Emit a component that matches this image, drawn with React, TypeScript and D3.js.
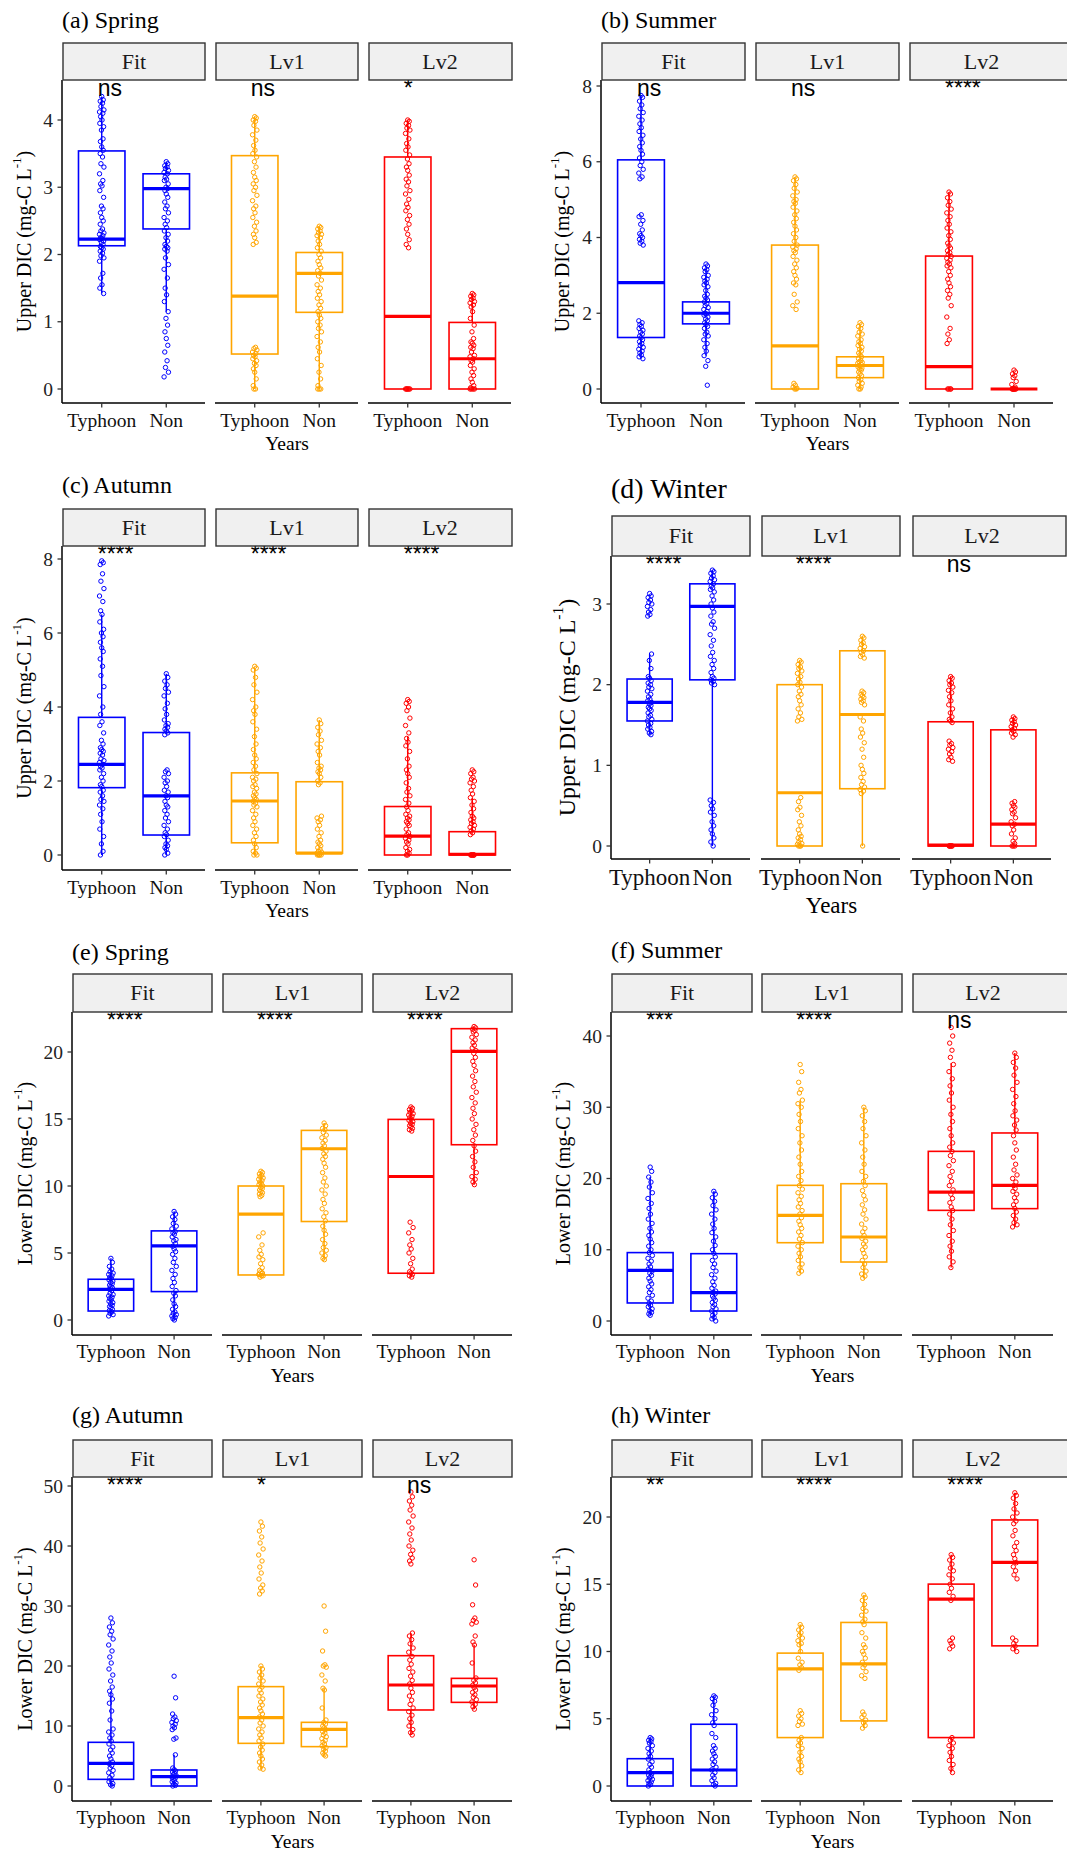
import React from 'react';
import * as d3 from 'd3';

// facets / groups shared by every panel
const facetNames = ['Fit', 'Lv1', 'Lv2'];
const groupNames = ['Typhoon', 'Non'];
const facetColors = ['#0000FF', '#FFA500', '#FF0000'];

// box stats per group: [q1, median, q3, whiskerLow, whiskerHigh]
// order: Fit-Typhoon, Fit-Non, Lv1-Typhoon, Lv1-Non, Lv2-Typhoon, Lv2-Non

// (a) Upper DIC, Spring
const aTicks = [0, 1, 2, 3, 4];
const aSig = ['ns', 'ns', '*'];
const aBoxes = [
  [2.13, 2.23, 3.54, 1.42, 4.35], [2.38, 2.98, 3.2, 1.15, 3.38],
  [0.52, 1.38, 3.47, 0, 4.05], [1.14, 1.72, 2.03, 0, 2.42],
  [0, 1.08, 3.45, 0, 4.0], [0, 0.45, 0.99, 0, 1.42],
];
const aPoints = [
  [4.35, 4.3, 4.28, 4.25, 4.2, 4.15, 4.12, 4.1, 4.05, 4.0, 3.95, 3.9, 3.85, 3.72, 3.68, 3.6, 3.55, 3.5, 3.45, 3.35, 3.3, 3.2, 3.1, 3.05, 3.02, 2.95, 2.85, 2.72, 2.68, 2.62, 2.55, 2.5, 2.45, 2.38, 2.35, 2.32, 2.3, 2.28, 2.25, 2.24, 2.22, 2.2, 2.18, 2.15, 2.12, 2.1, 2.08, 2.05, 2.02, 1.98, 1.95, 1.9, 1.72, 1.65, 1.55, 1.5, 1.42],
  [3.38, 3.35, 3.32, 3.3, 3.28, 3.25, 3.22, 3.2, 3.15, 3.12, 3.1, 3.05, 3.0, 2.98, 2.95, 2.9, 2.85, 2.78, 2.72, 2.68, 2.62, 2.55, 2.5, 2.45, 2.4, 2.35, 2.3, 2.25, 2.2, 2.15, 2.12, 2.1, 2.08, 2.05, 1.95, 1.85, 1.78, 1.65, 1.5, 1.4, 1.3, 1.15, 1.05, 0.95, 0.85, 0.75, 0.65, 0.55, 0.42, 0.32, 0.25, 0.18],
  [4.05, 4.03, 4.0, 3.98, 3.92, 3.85, 3.78, 3.7, 3.62, 3.55, 3.5, 3.45, 3.38, 3.3, 3.22, 3.15, 3.1, 3.05, 3.0, 2.95, 2.88, 2.8, 2.72, 2.68, 2.62, 2.55, 2.48, 2.42, 2.35, 2.3, 2.25, 2.18, 2.15, 0.62, 0.6, 0.58, 0.55, 0.53, 0.5, 0.48, 0.45, 0.42, 0.38, 0.35, 0.3, 0.25, 0.15, 0.05, 0.0, 0.0],
  [2.42, 2.4, 2.38, 2.35, 2.32, 2.3, 2.28, 2.25, 2.2, 2.15, 2.1, 2.05, 2.0, 1.95, 1.9, 1.85, 1.8, 1.76, 1.72, 1.68, 1.62, 1.55, 1.5, 1.45, 1.4, 1.35, 1.3, 1.25, 1.2, 1.15, 1.1, 1.05, 1.0, 0.95, 0.9, 0.85, 0.78, 0.7, 0.62, 0.55, 0.45, 0.35, 0.25, 0.15, 0.05, 0.0, 0.0, 0.0],
  [4.0, 3.98, 3.95, 3.92, 3.88, 3.85, 3.8, 3.72, 3.65, 3.6, 3.55, 3.48, 3.42, 3.35, 3.3, 3.25, 3.18, 3.12, 3.08, 3.02, 2.95, 2.9, 2.82, 2.75, 2.7, 2.65, 2.58, 2.52, 2.45, 2.38, 2.3, 2.22, 2.15, 2.1, 0, 0, 0, 0, 0, 0],
  [1.42, 1.4, 1.38, 1.35, 1.33, 1.3, 1.28, 1.25, 1.22, 1.15, 1.05, 0.95, 0.85, 0.75, 0.7, 0.68, 0.65, 0.62, 0.6, 0.55, 0.5, 0.48, 0.45, 0.42, 0.4, 0.35, 0.3, 0.25, 0.2, 0.15, 0.1, 0.05, 0.02, 0, 0, 0, 0],
];

// (b) Upper DIC, Summer
const bTicks = [0, 2, 4, 6, 8];
const bSig = ['ns', 'ns', '****'];
const bBoxes = [
  [1.36, 2.81, 6.05, 0.8, 7.75], [1.72, 2.0, 2.3, 0.88, 3.17],
  [0, 1.14, 3.8, 0, 5.6], [0.3, 0.62, 0.85, 0, 1.65],
  [0, 0.59, 3.51, 0, 5.2], [0, 0, 0, 0, 0],
];
const bPoints = [
  [7.75, 7.7, 7.6, 7.5, 7.4, 7.3, 7.2, 7.1, 7.0, 6.9, 6.8, 6.7, 6.6, 6.5, 6.4, 6.3, 6.2, 6.1, 6.0, 5.9, 5.8, 5.7, 5.6, 5.55, 4.6, 4.55, 4.45, 4.35, 4.2, 4.1, 4.05, 4.0, 3.95, 3.9, 3.85, 3.8, 1.8, 1.75, 1.7, 1.65, 1.6, 1.55, 1.5, 1.45, 1.4, 1.35, 1.3, 1.25, 1.2, 1.15, 1.1, 1.05, 1.0, 0.95, 0.9, 0.85, 0.8],
  [3.3, 3.25, 3.2, 3.15, 3.1, 3.0, 2.95, 2.9, 2.85, 2.8, 2.75, 2.7, 2.6, 2.5, 2.45, 2.4, 2.35, 2.3, 2.25, 2.2, 2.15, 2.1, 2.05, 2.0, 1.98, 1.95, 1.9, 1.85, 1.8, 1.75, 1.7, 1.65, 1.6, 1.5, 1.45, 1.4, 1.3, 1.2, 1.1, 1.0, 0.88, 0.75, 0.6, 0.1],
  [5.6, 5.55, 5.5, 5.4, 5.3, 5.2, 5.1, 5.0, 4.95, 4.9, 4.8, 4.7, 4.6, 4.5, 4.4, 4.3, 4.2, 4.1, 4.0, 3.9, 3.8, 3.75, 3.7, 3.65, 3.6, 3.5, 3.4, 3.3, 3.2, 3.1, 3.0, 2.9, 2.8, 2.75, 2.5, 2.3, 2.2, 2.1, 0.15, 0.1, 0.05, 0.02, 0, 0],
  [1.75, 1.7, 1.65, 1.6, 1.5, 1.45, 1.4, 1.3, 1.25, 1.2, 1.15, 1.1, 1.05, 1.0, 0.95, 0.9, 0.85, 0.8, 0.75, 0.72, 0.7, 0.68, 0.65, 0.62, 0.6, 0.58, 0.55, 0.52, 0.5, 0.45, 0.4, 0.35, 0.3, 0.25, 0.2, 0.15, 0.1, 0.05, 0, 0],
  [5.2, 5.15, 5.05, 4.95, 4.85, 4.75, 4.65, 4.55, 4.45, 4.35, 4.25, 4.15, 4.05, 3.95, 3.85, 3.78, 3.72, 3.65, 3.6, 3.55, 3.5, 3.45, 3.4, 3.35, 3.3, 3.25, 3.2, 3.1, 3.0, 2.9, 2.8, 2.7, 2.6, 2.5, 2.4, 2.2, 1.9, 1.6, 1.45, 1.3, 1.2, 0, 0, 0, 0],
  [0.5, 0.45, 0.4, 0.35, 0.3, 0.2, 0.12, 0.05, 0, 0, 0, 0, 0, 0, 0, 0],
];

// (c) Upper DIC, Autumn
const cTicks = [0, 2, 4, 6, 8];
const cSig = ['****', '****', '****'];
const cBoxes = [
  [1.82, 2.45, 3.72, 0, 6.5], [0.54, 1.6, 3.31, 0, 4.9],
  [0.33, 1.46, 2.22, 0, 5.05], [0.05, 0.05, 1.98, 0, 3.65],
  [0, 0.51, 1.31, 0, 3.2], [0, 0.02, 0.63, 0, 1.55],
];
const cPoints = [
  [7.95, 7.9, 7.85, 7.6, 7.4, 7.2, 7.0, 6.85, 6.6, 6.5, 6.3, 6.1, 6.0, 5.9, 5.75, 5.6, 5.5, 5.3, 5.1, 4.85, 4.55, 4.3, 4.0, 3.8, 3.6, 3.5, 3.3, 3.1, 3.0, 2.9, 2.85, 2.8, 2.75, 2.7, 2.6, 2.55, 2.5, 2.45, 2.4, 2.35, 2.3, 2.2, 2.1, 2.0, 1.9, 1.85, 1.75, 1.7, 1.6, 1.5, 1.45, 1.35, 1.25, 1.1, 0.9, 0.7, 0.5, 0.3, 0.1, 0],
  [4.9, 4.8, 4.7, 4.6, 4.5, 4.4, 4.3, 4.1, 3.95, 3.8, 3.65, 3.55, 3.5, 3.45, 3.4, 3.35, 3.3, 3.25, 2.3, 2.25, 2.2, 2.1, 2.0, 1.95, 1.85, 1.75, 1.7, 1.6, 1.55, 1.45, 1.35, 1.3, 1.2, 1.1, 1.0, 0.9, 0.8, 0.7, 0.6, 0.55, 0.5, 0.4, 0.3, 0.25, 0.2, 0.15, 0.05, 0],
  [5.1, 5.05, 5.0, 4.8, 4.6, 4.4, 4.2, 4.0, 3.9, 3.8, 3.6, 3.4, 3.2, 3.0, 2.85, 2.7, 2.6, 2.5, 2.4, 2.3, 2.2, 2.1, 2.05, 2.0, 1.9, 1.85, 1.8, 1.7, 1.65, 1.6, 1.55, 1.5, 1.45, 1.4, 1.35, 1.3, 1.2, 1.1, 1.0, 0.9, 0.8, 0.7, 0.6, 0.5, 0.4, 0.3, 0.2, 0.1, 0.05, 0, 0],
  [3.65, 3.55, 3.45, 3.35, 3.25, 3.1, 3.0, 2.9, 2.8, 2.7, 2.5, 2.4, 2.35, 2.3, 2.25, 2.2, 2.1, 2.0, 1.95, 1.9, 1.05, 1.0, 0.95, 0.9, 0.8, 0.7, 0.6, 0.5, 0.4, 0.35, 0.3, 0.25, 0.2, 0.15, 0.1, 0.08, 0.05, 0.03, 0.02, 0, 0, 0, 0],
  [4.2, 4.15, 4.1, 4.0, 3.9, 3.7, 3.5, 3.3, 3.15, 3.05, 2.95, 2.8, 2.6, 2.4, 2.3, 2.2, 2.1, 1.95, 1.8, 1.7, 1.6, 1.5, 1.4, 1.3, 1.2, 1.1, 1.05, 1.0, 0.95, 0.9, 0.85, 0.8, 0.7, 0.6, 0.55, 0.5, 0.45, 0.4, 0.35, 0.3, 0.2, 0.15, 0.1, 0.05, 0, 0],
  [2.3, 2.25, 2.2, 2.1, 2.05, 2.0, 1.95, 1.85, 1.75, 1.65, 1.55, 1.45, 1.35, 1.25, 1.15, 1.05, 1.0, 0.95, 0.9, 0.85, 0.8, 0.75, 0.7, 0.65, 0.6, 0.55, 0, 0, 0, 0, 0, 0, 0],
];

// (d) Upper DIC, Winter
const dTicks = [0, 1, 2, 3];
const dSig = ['****', '****', 'ns'];
const dBoxes = [
  [1.55, 1.78, 2.07, 1.38, 2.38], [2.06, 2.97, 3.25, 0, 3.42],
  [0, 0.66, 2.0, 0, 2.3], [0.71, 1.63, 2.42, 0, 2.6],
  [0, 0.01, 1.54, 0, 2.1], [0, 0.27, 1.44, 0, 1.6],
];
const dPoints = [
  [3.13, 3.1, 3.08, 3.05, 3.02, 3.0, 2.97, 2.93, 2.9, 2.87, 2.85, 2.38, 2.3, 2.2, 2.1, 2.08, 2.05, 2.02, 2.0, 1.97, 1.95, 1.92, 1.88, 1.85, 1.82, 1.8, 1.78, 1.76, 1.74, 1.72, 1.7, 1.68, 1.65, 1.62, 1.6, 1.57, 1.55, 1.52, 1.5, 1.47, 1.45, 1.42, 1.4, 1.38],
  [3.42, 3.4, 3.38, 3.35, 3.32, 3.3, 3.28, 3.25, 3.22, 3.2, 3.18, 3.15, 3.1, 3.05, 3.0, 2.95, 2.9, 2.85, 2.78, 2.75, 2.7, 2.62, 2.55, 2.48, 2.4, 2.35, 2.3, 2.25, 2.2, 2.15, 2.1, 2.08, 2.06, 2.04, 2.02, 2.0, 0.57, 0.54, 0.5, 0.46, 0.42, 0.38, 0.3, 0.25, 0.2, 0.15, 0.1, 0.05, 0],
  [2.3, 2.28, 2.25, 2.22, 2.2, 2.17, 2.14, 2.1, 2.07, 2.03, 2.0, 1.97, 1.92, 1.88, 1.85, 1.8, 1.75, 1.7, 1.65, 1.6, 1.57, 1.55, 0.6, 0.55, 0.48, 0.45, 0.38, 0.3, 0.25, 0.2, 0.15, 0.12, 0.1, 0.08, 0.05, 0.03, 0.02, 0, 0, 0],
  [2.6, 2.58, 2.55, 2.52, 2.5, 2.47, 2.45, 2.42, 2.4, 2.37, 2.35, 2.33, 1.92, 1.9, 1.88, 1.86, 1.84, 1.82, 1.8, 1.78, 1.75, 1.6, 1.55, 1.45, 1.4, 1.35, 1.28, 1.2, 1.1, 1.0, 0.95, 0.9, 0.85, 0.8, 0.76, 0.73, 0.7, 0.68, 0.65, 0],
  [2.1, 2.08, 2.05, 2.02, 2.0, 1.97, 1.93, 1.9, 1.85, 1.8, 1.75, 1.7, 1.65, 1.6, 1.57, 1.55, 1.53, 1.3, 1.27, 1.25, 1.22, 1.2, 1.17, 1.14, 1.1, 1.07, 1.05, 0, 0, 0, 0, 0, 0],
  [1.6, 1.58, 1.56, 1.54, 1.52, 1.5, 1.48, 1.46, 1.44, 1.42, 1.4, 1.38, 1.35, 0.55, 0.53, 0.5, 0.48, 0.45, 0.42, 0.4, 0.35, 0.3, 0.27, 0.25, 0.2, 0.15, 0.1, 0.06, 0.03, 0, 0, 0],
];

// (e) Lower DIC, Spring
const eTicks = [0, 5, 10, 15, 20];
const eSig = ['****', '****', '****'];
const eBoxes = [
  [0.67, 2.29, 3.04, 0.3, 4.6], [2.12, 5.53, 6.65, 0, 8.1],
  [3.36, 7.9, 10.0, 3.2, 11.1], [7.35, 12.78, 14.15, 4.5, 14.7],
  [3.49, 10.71, 14.97, 3.2, 15.9], [13.08, 20.05, 21.74, 10.1, 21.9],
];
const ePoints = [
  [4.6, 4.3, 4.0, 3.8, 3.6, 3.5, 3.4, 3.3, 3.2, 3.1, 3.0, 2.9, 2.8, 2.7, 2.6, 2.5, 2.4, 2.3, 2.2, 2.0, 1.9, 1.8, 1.7, 1.6, 1.5, 1.4, 1.3, 1.2, 1.1, 1.0, 0.9, 0.8, 0.7, 0.6, 0.5, 0.4, 0.3],
  [8.1, 7.9, 7.7, 7.5, 7.2, 7.0, 6.8, 6.6, 6.5, 6.4, 6.2, 6.0, 5.9, 5.7, 5.5, 5.3, 5.1, 4.9, 4.6, 4.3, 4.0, 3.7, 3.4, 3.1, 2.8, 2.5, 2.2, 2.0, 1.8, 1.5, 1.2, 1.0, 0.8, 0.6, 0.5, 0.4, 0.3, 0.2, 0.1, 0],
  [11.1, 11.0, 10.9, 10.8, 10.7, 10.6, 10.5, 10.4, 10.3, 10.2, 10.1, 10.0, 9.9, 9.8, 9.7, 9.6, 9.5, 9.4, 9.3, 9.2, 6.5, 6.2, 5.6, 5.2, 4.9, 4.7, 4.5, 4.2, 3.9, 3.7, 3.6, 3.5, 3.4, 3.3, 3.2, 3.3, 3.4, 3.5],
  [14.7, 14.5, 14.3, 14.2, 14.0, 13.8, 13.6, 13.4, 13.2, 13.0, 12.8, 12.6, 12.4, 12.2, 12.0, 11.7, 11.4, 11.0, 10.6, 10.3, 10.0, 9.7, 9.4, 9.0, 8.7, 8.3, 8.0, 7.7, 7.4, 7.0, 6.7, 6.4, 6.0, 5.7, 5.4, 5.2, 5.0, 4.8, 4.6, 4.5],
  [15.9, 15.8, 15.7, 15.6, 15.5, 15.4, 15.3, 15.2, 15.1, 15.0, 14.9, 14.8, 14.7, 14.6, 14.5, 14.4, 14.3, 14.2, 14.1, 7.3, 6.9, 6.5, 6.0, 5.6, 5.3, 5.0, 4.6, 4.2, 3.8, 3.6, 3.5, 3.4, 3.3, 3.2],
  [21.9, 21.8, 21.7, 21.6, 21.5, 21.3, 21.1, 20.9, 20.7, 20.5, 20.3, 20.1, 19.9, 19.6, 19.3, 19.0, 18.6, 18.2, 17.8, 17.4, 17.0, 16.6, 16.2, 15.8, 15.4, 15.0, 14.6, 14.2, 13.8, 13.4, 13.0, 12.6, 12.2, 11.8, 11.4, 11.0, 10.7, 10.5, 10.3, 10.1],
];

// (f) Lower DIC, Summer
const fTicks = [0, 10, 20, 30, 40];
const fSig = ['***', '****', 'ns'];
const fBoxes = [
  [2.53, 7.11, 9.6, 0.8, 20.2], [1.4, 3.98, 9.45, 0, 18.2],
  [10.99, 14.83, 19.04, 6.7, 31.0], [8.28, 11.79, 19.27, 6.0, 30.0],
  [15.53, 18.1, 23.81, 7.5, 36.2], [15.77, 19.04, 26.39, 13.2, 37.6],
];
const fPoints = [
  [21.6, 21.0, 20.2, 19.5, 18.8, 18.0, 17.2, 16.5, 15.8, 15.0, 14.3, 13.7, 13.0, 12.5, 12.0, 11.5, 11.0, 10.5, 10.0, 9.6, 9.2, 8.8, 8.4, 8.0, 7.6, 7.3, 7.0, 6.7, 6.4, 6.0, 5.6, 5.2, 4.8, 4.4, 4.0, 3.6, 3.2, 2.8, 2.5, 2.2, 2.0, 1.7, 1.4, 1.2, 1.0, 0.8],
  [18.2, 17.8, 17.3, 16.8, 16.2, 15.6, 15.0, 14.3, 13.6, 13.0, 12.4, 11.8, 11.2, 10.6, 10.0, 9.5, 9.0, 8.5, 8.0, 7.5, 7.0, 6.5, 6.0, 5.5, 5.0, 4.6, 4.2, 4.0, 3.8, 3.5, 3.2, 2.9, 2.6, 2.3, 2.0, 1.7, 1.4, 1.1, 0.8, 0.5, 0.3, 0],
  [36.0, 35.0, 33.5, 32.5, 32.0, 31.0, 30.5, 30.0, 29.0, 28.0, 27.0, 26.0, 25.0, 24.0, 23.0, 22.0, 21.0, 20.3, 19.7, 19.0, 18.5, 18.0, 17.5, 17.0, 16.5, 16.0, 15.5, 15.0, 14.5, 14.0, 13.5, 13.0, 12.5, 12.0, 11.5, 11.0, 10.5, 10.0, 9.5, 9.0, 8.5, 8.0, 7.5, 7.0, 6.7],
  [30.0, 29.5, 28.8, 28.0, 27.0, 26.0, 25.0, 24.0, 23.0, 22.0, 21.0, 20.3, 19.6, 19.0, 18.3, 17.6, 17.0, 16.3, 15.6, 15.0, 14.3, 13.6, 13.0, 12.5, 12.0, 11.6, 11.2, 10.8, 10.4, 10.0, 9.5, 9.0, 8.5, 8.0, 7.5, 7.0, 6.6, 6.3, 6.0],
  [41.2, 40.0, 39.0, 38.0, 37.0, 36.0, 35.0, 34.0, 33.0, 32.0, 31.0, 30.0, 29.0, 28.0, 27.0, 26.0, 25.0, 24.4, 23.8, 23.2, 22.5, 21.8, 21.0, 20.3, 19.6, 19.0, 18.4, 17.8, 17.2, 16.6, 16.0, 15.5, 15.0, 14.3, 13.5, 12.7, 12.0, 11.2, 10.5, 9.8, 9.0, 8.3, 7.5],
  [37.6, 37.0, 36.3, 35.5, 34.5, 33.5, 32.5, 31.5, 30.5, 29.5, 28.8, 28.2, 27.5, 26.8, 26.0, 25.0, 24.0, 23.0, 22.0, 21.2, 20.5, 20.0, 19.5, 19.0, 18.6, 18.2, 17.8, 17.3, 16.8, 16.3, 15.8, 15.3, 14.8, 14.3, 13.8, 13.5, 13.2],
];

// (g) Lower DIC, Autumn
const gTicks = [0, 10, 20, 30, 40, 50];
const gSig = ['****', '*', 'ns'];
const gBoxes = [
  [1.11, 3.78, 7.28, 0, 15.8], [0, 1.56, 2.67, 0, 5.2],
  [7.11, 11.39, 16.56, 2.8, 20.0], [6.56, 9.44, 10.61, 5.0, 16.3],
  [12.67, 16.83, 21.72, 8.5, 25.5], [13.94, 16.67, 17.94, 12.8, 23.5],
];
const gPoints = [
  [28.0, 27.2, 26.5, 25.8, 25.2, 24.5, 23.5, 22.5, 21.5, 20.5, 19.5, 18.5, 17.5, 16.5, 15.8, 15.2, 14.5, 13.8, 12.5, 11.0, 9.5, 9.0, 8.5, 8.0, 7.5, 7.0, 6.5, 6.0, 5.5, 5.0, 4.5, 4.0, 3.7, 3.4, 3.0, 2.6, 2.2, 1.8, 1.4, 1.0, 0.7, 0.4, 0.2, 0],
  [18.3, 14.7, 12.0, 11.5, 11.2, 10.9, 10.6, 10.3, 10.0, 9.7, 9.4, 8.0, 7.8, 5.2, 3.0, 2.7, 2.5, 2.3, 2.1, 1.9, 1.7, 1.5, 1.3, 1.1, 0.9, 0.7, 0.5, 0.3, 0.1, 0],
  [44.0, 43.3, 42.5, 41.5, 40.5, 39.5, 38.5, 37.5, 36.5, 35.5, 34.5, 33.5, 33.0, 32.5, 32.0, 20.0, 19.5, 19.0, 18.5, 18.0, 17.5, 17.0, 16.5, 16.0, 15.5, 15.0, 14.5, 14.0, 13.5, 13.0, 12.5, 12.0, 11.5, 11.0, 10.5, 10.0, 9.5, 9.0, 8.5, 8.0, 7.5, 7.0, 6.5, 6.0, 5.5, 5.0, 4.5, 4.0, 3.5, 3.0, 2.8],
  [30.0, 25.8, 22.5, 20.2, 20.0, 19.8, 18.5, 17.5, 16.3, 16.0, 13.0, 11.0, 10.6, 10.3, 10.0, 9.7, 9.4, 9.1, 8.8, 8.5, 8.2, 7.9, 7.6, 7.3, 7.0, 6.7, 6.4, 6.1, 5.8, 5.5, 5.2, 5.0],
  [49.0, 48.2, 47.5, 46.8, 46.0, 45.0, 44.0, 43.0, 42.0, 41.0, 40.0, 39.3, 38.6, 38.0, 37.5, 37.0, 25.5, 25.0, 24.4, 23.7, 23.0, 22.3, 21.6, 21.0, 20.3, 19.6, 19.0, 18.3, 17.6, 17.0, 16.3, 15.6, 15.0, 14.3, 13.6, 13.0, 12.4, 11.8, 11.2, 10.6, 10.0, 9.4, 8.9, 8.5],
  [37.7, 33.5, 30.2, 28.0, 27.6, 27.3, 27.0, 25.0, 24.0, 23.5, 20.5, 18.0, 17.6, 17.2, 16.8, 16.4, 16.0, 15.6, 15.2, 14.8, 14.4, 14.0, 13.6, 13.2, 12.8],
];

// (h) Lower DIC, Winter
const hTicks = [0, 5, 10, 15, 20];
const hSig = ['**', '****', '****'];
const hBoxes = [
  [0, 0.99, 2.03, 0, 3.6], [0, 1.19, 4.59, 0, 6.7],
  [3.6, 8.71, 9.88, 1.0, 12.0], [4.84, 9.08, 12.16, 4.3, 14.2],
  [3.6, 13.9, 15.01, 1.0, 17.2], [10.42, 16.63, 19.78, 10.0, 21.8],
];
const hPoints = [
  [3.6, 3.5, 3.4, 3.3, 3.2, 3.0, 2.8, 2.6, 2.4, 2.2, 2.0, 1.8, 1.6, 1.4, 1.2, 1.0, 0.9, 0.8, 0.7, 0.6, 0.5, 0.4, 0.3, 0.2, 0.1, 0],
  [6.7, 6.6, 6.5, 6.3, 6.0, 5.6, 5.3, 5.0, 4.7, 4.5, 3.9, 3.6, 3.0, 2.8, 2.6, 2.4, 2.2, 2.0, 1.8, 1.6, 1.4, 1.2, 1.0, 0.8, 0.6, 0.4, 0.2, 0.1, 0],
  [12.0, 11.8, 11.6, 11.4, 11.2, 11.0, 10.8, 10.6, 10.5, 10.0, 9.5, 9.2, 9.0, 8.8, 8.6, 5.6, 5.4, 5.2, 5.0, 4.8, 4.6, 4.5, 3.6, 3.4, 3.2, 3.0, 2.8, 2.5, 2.2, 2.0, 1.8, 1.5, 1.2, 1.0],
  [14.2, 14.0, 13.8, 13.5, 13.2, 13.0, 12.7, 12.4, 12.2, 12.0, 11.4, 11.0, 10.5, 10.3, 10.0, 9.8, 9.5, 9.2, 9.0, 8.8, 8.5, 8.2, 8.0, 5.5, 5.3, 5.1, 4.9, 4.7, 4.5, 4.3],
  [17.2, 17.0, 16.8, 16.5, 16.2, 16.0, 15.7, 15.4, 15.0, 14.7, 14.4, 14.1, 13.8, 11.0, 10.8, 10.6, 10.4, 10.2, 3.6, 3.4, 3.2, 3.0, 2.8, 2.5, 2.2, 1.9, 1.6, 1.3, 1.0],
  [21.8, 21.6, 21.4, 21.0, 20.6, 20.3, 20.0, 19.7, 19.5, 19.0, 18.6, 18.1, 17.8, 17.5, 17.2, 16.9, 16.6, 16.3, 16.0, 15.7, 15.4, 11.0, 10.8, 10.6, 10.4, 10.2, 10.0],
];

const SERIF = "'Liberation Serif', 'Times New Roman', serif";
const SANS = "'Liberation Sans', Arial, sans-serif";

// horizontal jitter pattern in px (deterministic, narrow like the original)
const JITTER = [0, 1.5, -1.5, 0.8, -0.8, 2.2, -2.2, 1.1, -1.1, 0.3, -1.9, 1.9, -0.3, 1.3, -1.3];

const panels = [
  { title: '(a) Spring', layer: 'Upper', ticks: aTicks, sig: aSig, boxes: aBoxes, points: aPoints,
    L: { left: [63, 216, 369], fw: 142, lastRight: 512, titleY: 28, sTop: 43, sBot: 80, axisY: 403, tickY: 427, yearsY: 450, yTitleX: 24, y0: 389, yTop: 120, big: false } },
  { title: '(b) Summer', layer: 'Upper', ticks: bTicks, sig: bSig, boxes: bBoxes, points: bPoints,
    L: { left: [602, 756, 910], fw: 143, lastRight: 1070, titleY: 28, sTop: 43, sBot: 80, axisY: 403, tickY: 427, yearsY: 450, yTitleX: 562, y0: 389, yTop: 86, big: false } },
  { title: '(c) Autumn', layer: 'Upper', ticks: cTicks, sig: cSig, boxes: cBoxes, points: cPoints,
    L: { left: [63, 216, 369], fw: 142, lastRight: 512, titleY: 493, sTop: 509, sBot: 546, axisY: 870, tickY: 894, yearsY: 917, yTitleX: 24, y0: 855, yTop: 559, big: false } },
  { title: '(d) Winter', layer: 'Upper', ticks: dTicks, sig: dSig, boxes: dBoxes, points: dPoints,
    L: { left: [612, 762, 913], fw: 138, lastRight: 1066, titleY: 498, sTop: 516, sBot: 556, axisY: 859, tickY: 885, yearsY: 913, yTitleX: 567, y0: 846, yTop: 604, big: true } },
  { title: '(e) Spring', layer: 'Lower', ticks: eTicks, sig: eSig, boxes: eBoxes, points: ePoints,
    L: { left: [73, 223, 373], fw: 139, lastRight: 512, titleY: 960, sTop: 974, sBot: 1012, axisY: 1335, tickY: 1358, yearsY: 1382, yTitleX: 25, y0: 1320, yTop: 1052, big: false } },
  { title: '(f) Summer', layer: 'Lower', ticks: fTicks, sig: fSig, boxes: fBoxes, points: fPoints,
    L: { left: [612, 762, 913], fw: 140, lastRight: 1070, titleY: 958, sTop: 974, sBot: 1012, axisY: 1335, tickY: 1358, yearsY: 1382, yTitleX: 563, y0: 1321, yTop: 1036, big: false } },
  { title: '(g) Autumn', layer: 'Lower', ticks: gTicks, sig: gSig, boxes: gBoxes, points: gPoints,
    L: { left: [73, 223, 373], fw: 139, lastRight: 512, titleY: 1423, sTop: 1440, sBot: 1477, axisY: 1801, tickY: 1824, yearsY: 1848, yTitleX: 25, y0: 1786, yTop: 1486, big: false } },
  { title: '(h) Winter', layer: 'Lower', ticks: hTicks, sig: hSig, boxes: hBoxes, points: hPoints,
    L: { left: [612, 762, 913], fw: 140, lastRight: 1070, titleY: 1423, sTop: 1440, sBot: 1477, axisY: 1801, tickY: 1824, yearsY: 1848, yTitleX: 563, y0: 1786, yTop: 1517, big: false } },
];

function Panel({ p }: { p: any }) {
  const L = p.L;
  const big = L.big;
  const fsTitle = big ? 28 : 24;
  const fsX = big ? 23 : 19.5;
  const fsYTitle = big ? 24 : 20;
  const yScale = d3.scaleLinear().domain([0, p.ticks[p.ticks.length - 1]]).range([L.y0, L.yTop]);
  const axisX = L.left[0] - 1;
  const yMid = (L.sBot + L.axisY) / 2;
  const yearsX = (L.left[0] + L.left[2] + L.fw) / 2;

  const facets = facetNames.map((name, fi) => {
    const x = d3.scaleLinear().domain([0.4, 2.6]).range([L.left[fi], L.left[fi] + L.fw]);
    const unit = x(1) - x(0);
    const bw = 0.72 * unit;
    const col = facetColors[fi];
    return { name, fi, x, bw, col };
  });

  return (
    <g>
      <text x={L.left[0] - 1} y={L.titleY} fontFamily={SERIF} fontSize={fsTitle} fill="#000">{p.title}</text>
      <text transform={`translate(${L.yTitleX},${yMid}) rotate(-90)`} textAnchor="middle" dominantBaseline="central"
        fontFamily={SERIF} fontSize={fsYTitle} fill="#000">
        {`${p.layer} DIC (mg-C L`}
        <tspan dy={-fsYTitle * 0.4} fontSize={fsYTitle * 0.65}>-1</tspan>
        <tspan dy={fsYTitle * 0.4}>)</tspan>
      </text>
      {/* y axis */}
      <line x1={axisX} x2={axisX} y1={L.sBot} y2={L.axisY} stroke="#000" strokeWidth={1.5} />
      {p.ticks.map((t: number) => (
        <g key={t}>
          <line x1={axisX - 4.5} x2={axisX} y1={yScale(t)} y2={yScale(t)} stroke="#333" strokeWidth={1.3} />
          <text x={axisX - 9} y={yScale(t)} dy="0.34em" textAnchor="end" fontFamily={SERIF} fontSize={19.5} fill="#222">{t}</text>
        </g>
      ))}
      {facets.map((f) => (
        <g key={f.name}>
          {groupNames.map((gname, gi) => {
            const idx = f.fi * 2 + gi;
            const [q1, med, q3, lo, hi] = p.boxes[idx];
            const cx = f.x(gi + 1);
            return (
              <g key={gname}>
                <line x1={cx} x2={cx} y1={yScale(q3)} y2={yScale(hi)} stroke={f.col} strokeWidth={1.4} />
                <line x1={cx} x2={cx} y1={yScale(q1)} y2={yScale(lo)} stroke={f.col} strokeWidth={1.4} />
                <rect x={cx - f.bw / 2} y={yScale(q3)} width={f.bw} height={Math.max(0, yScale(q1) - yScale(q3))}
                  fill="none" stroke={f.col} strokeWidth={1.6} />
                <line x1={cx - f.bw / 2} x2={cx + f.bw / 2} y1={yScale(med)} y2={yScale(med)} stroke={f.col} strokeWidth={3.2} />
                {p.points[idx].map((v: number, i: number) => (
                  <circle key={i} cx={cx + JITTER[i % JITTER.length]} cy={yScale(v)} r={2.2}
                    fill="none" stroke={f.col} strokeWidth={1} />
                ))}
              </g>
            );
          })}
          <text x={f.x(1) - 4} y={L.sBot + 15.5} fontFamily={SANS} fontSize={23} fill="#000">{p.sig[f.fi]}</text>
        </g>
      ))}
      {facets.map((f) => {
        const x0 = L.left[f.fi];
        const x1 = f.fi === 2 ? L.lastRight : x0 + L.fw;
        return (
          <g key={'s' + f.name}>
            <rect x={x0} y={L.sTop} width={x1 - x0} height={L.sBot - L.sTop} fill="#F0F0F0" stroke="#333" strokeWidth={1.4} />
            <text x={(x0 + x0 + L.fw) / 2} y={(L.sTop + L.sBot) / 2} dy="0.34em" textAnchor="middle"
              fontFamily={SERIF} fontSize={22} fill="#1a1a1a">{f.name}</text>
            <line x1={x0 - 1} x2={x0 + L.fw} y1={L.axisY} y2={L.axisY} stroke="#000" strokeWidth={1.5} />
            {groupNames.map((gname, gi) => (
              <g key={gname}>
                <line x1={f.x(gi + 1)} x2={f.x(gi + 1)} y1={L.axisY} y2={L.axisY + 4.5} stroke="#333" strokeWidth={1.3} />
                <text x={f.x(gi + 1)} y={L.tickY} textAnchor="middle" fontFamily={SERIF} fontSize={fsX} fill="#111">{gname}</text>
              </g>
            ))}
          </g>
        );
      })}
      <text x={yearsX} y={L.yearsY} textAnchor="middle" fontFamily={SERIF} fontSize={fsX} fill="#000">Years</text>
    </g>
  );
}

export default function App() {
  return (
    <svg width={1067} height={1851} viewBox="0 0 1067 1851"
      style={{ position: 'absolute', left: 0, top: 0, background: '#fff' }}>
      <rect x={0} y={0} width={1067} height={1851} fill="#fff" />
      {panels.map((p) => <Panel key={p.title} p={p} />)}
    </svg>
  );
}
